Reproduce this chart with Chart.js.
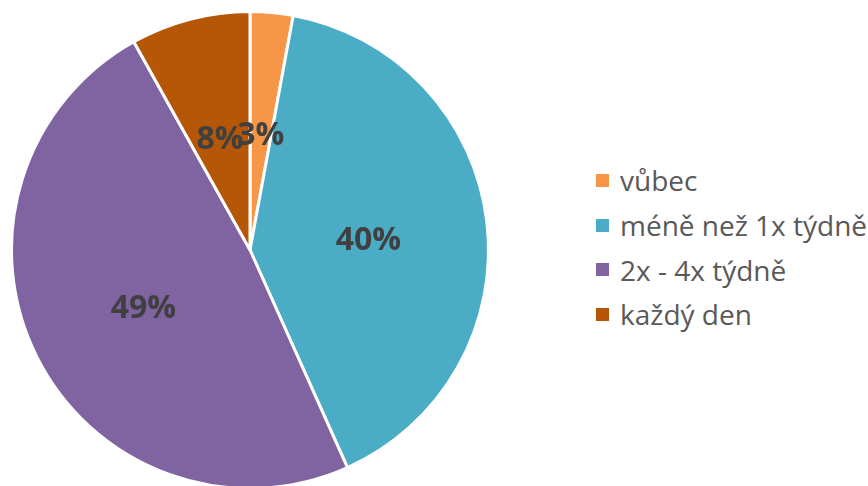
<!DOCTYPE html>
<html>
<head>
<meta charset="utf-8">
<script src="https://cdn.jsdelivr.net/npm/chart.js@4"></script>
<style>
  html, body { margin: 0; padding: 0; background: #fff; overflow: hidden; }
  body { width: 868px; height: 486px; position: relative; }
  #pieBox { position: absolute; left: 0; top: 10px; width: 500px; height: 480px; }
  #legend { position: absolute; left: 596px; top: 158px; font-family: "Open Sans", sans-serif;
            font-size: 28px; color: #595959; white-space: nowrap; }
  #legend .row { height: 44.7px; display: flex; align-items: center; }
  #legend .box { width: 13px; height: 13px; margin-right: 11px; flex: none; }
</style>
</head>
<body>
<div id="pieBox"><canvas id="pieChart"></canvas></div>
<div id="legend"></div>
<script>
const categories = ["vůbec", "méně než 1x týdně", "2x - 4x týdně", "každý den"];
const shares = [2.9, 40.4, 48.6, 8.1];
const colors = ["#F79646", "#4BACC6", "#8064A2", "#B65708"];

// popisky procent uprostred vysece
const pctLabels = {
  id: "pctLabels",
  afterDatasetsDraw(chart) {
    const ctx = chart.ctx;
    const total = shares.reduce((a, b) => a + b, 0);
    const meta = chart.getDatasetMeta(0);
    ctx.save();
    ctx.font = "bold 32px 'Open Sans', sans-serif";
    ctx.fillStyle = "#404040";
    ctx.textAlign = "center";
    ctx.textBaseline = "middle";
    meta.data.forEach((arc, i) => {
      const p = arc.getProps(["x", "y", "startAngle", "endAngle", "outerRadius"], true);
      const mid = (p.startAngle + p.endAngle) / 2;
      const r = p.outerRadius * 0.5;
      const txt = Math.round((shares[i] / total) * 100) + "%";
      ctx.fillText(txt, p.x + Math.cos(mid) * r, p.y + Math.sin(mid) * r + 5);
    });
    ctx.restore();
  },
};

new Chart(document.getElementById("pieChart"), {
  type: "pie",
  data: {
    labels: categories,
    datasets: [{
      data: shares,
      backgroundColor: colors,
      borderColor: "#ffffff",
      borderWidth: 3,
      hoverOffset: 0,
    }],
  },
  options: {
    responsive: true,
    maintainAspectRatio: false,
    animation: false,
    layout: { padding: 0 },
    plugins: {
      legend: { display: false },
      tooltip: { enabled: false },
    },
  },
  plugins: [pctLabels],
});

const legend = document.getElementById("legend");
legend.innerHTML = categories
  .map((c, i) => '<div class="row"><span class="box" style="background:' + colors[i] + '"></span>' + c + "</div>")
  .join("");
</script>
</body>
</html>
